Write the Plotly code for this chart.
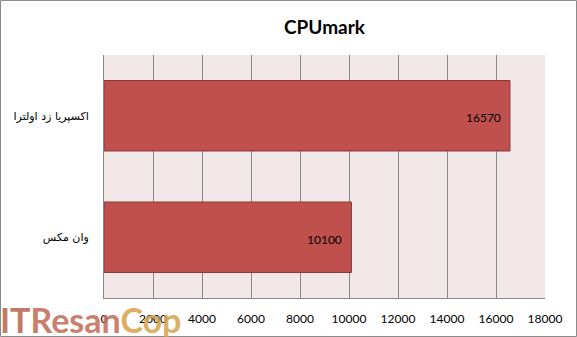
import plotly.graph_objects as go

categories = ["اکسپریا زد اولترا", "وان مکس"]
values = [16570, 10100]
tick_values = [0, 2000, 4000, 6000, 8000, 10000, 12000, 14000, 16000, 18000]
tick_labels = [str(v) for v in tick_values]
title_text = "CPUmark"

W, H = 577, 337
L, R, T, B = 104, 32, 55, 39
PW, PH = W - L - R, H - T - B

def px_to_paper_x(px):
    return (px - L) / PW

def px_to_paper_y(py):
    return (H - B - py) / PH

fig = go.Figure()
fig.add_trace(go.Bar(
    y=categories, x=values, orientation="h",
    marker=dict(color="#C0504D", line=dict(color="#8C3836", width=1)),
    hoverinfo="skip",
))

for c, v in zip(categories, values):
    fig.add_annotation(x=v, y=c, xref="x", yref="y", text=str(v),
                       showarrow=False, xanchor="right", xshift=-7, yshift=-2,
                       font=dict(family="Lato, Open Sans, sans-serif", size=12, color="#000000"))

# outer border
fig.add_shape(type="rect", xref="paper", yref="paper",
              x0=px_to_paper_x(0.5), x1=px_to_paper_x(W - 0.5),
              y0=px_to_paper_y(H - 0.5), y1=px_to_paper_y(0.5),
              line=dict(color="#8A8A8A", width=1), fillcolor="rgba(0,0,0,0)", layer="above")

# watermark logo
fig.add_annotation(xref="paper", yref="paper", x=px_to_paper_x(-2), y=px_to_paper_y(H + 5),
                   xanchor="left", yanchor="bottom", showarrow=False,
                   text="<b><span style='color:#B9624E'>IT</span><span style='color:#C06C55'>Resan</span><span style='color:#D6A24C'>Cop</span></b>",
                   font=dict(family="Lato, sans-serif", size=34), opacity=0.85)

fig.update_layout(
    width=W, height=H,
    margin=dict(l=L, r=R, t=T, b=B),
    paper_bgcolor="#FFFFFF",
    plot_bgcolor="#F2E7E7",
    showlegend=False,
    bargap=0.42,
    title=dict(text="<b>" + title_text + "</b>", x=0.5, xref="paper", xanchor="center",
               y=1 - 27 / H, yref="container", yanchor="middle",
               font=dict(family="Lato, Open Sans, sans-serif", size=19, color="#000000")),
    xaxis=dict(range=[0, 18000], tickvals=tick_values, ticktext=tick_labels,
               showgrid=True, gridcolor="#888888", gridwidth=1,
               showline=True, linecolor="#888888", linewidth=1,
               zeroline=False, ticks="", ticklabelstandoff=10,
               tickfont=dict(family="Lato, Open Sans, sans-serif", size=12, color="#000000")),
    yaxis=dict(autorange="reversed", showgrid=False, showline=True, linecolor="#888888", linewidth=1,
               ticks="", ticklabelstandoff=12, zeroline=False,
               tickfont=dict(family="DejaVu Sans, Noto Sans, sans-serif", size=11, color="#000000")),
)

fig.write_html("out.html")
